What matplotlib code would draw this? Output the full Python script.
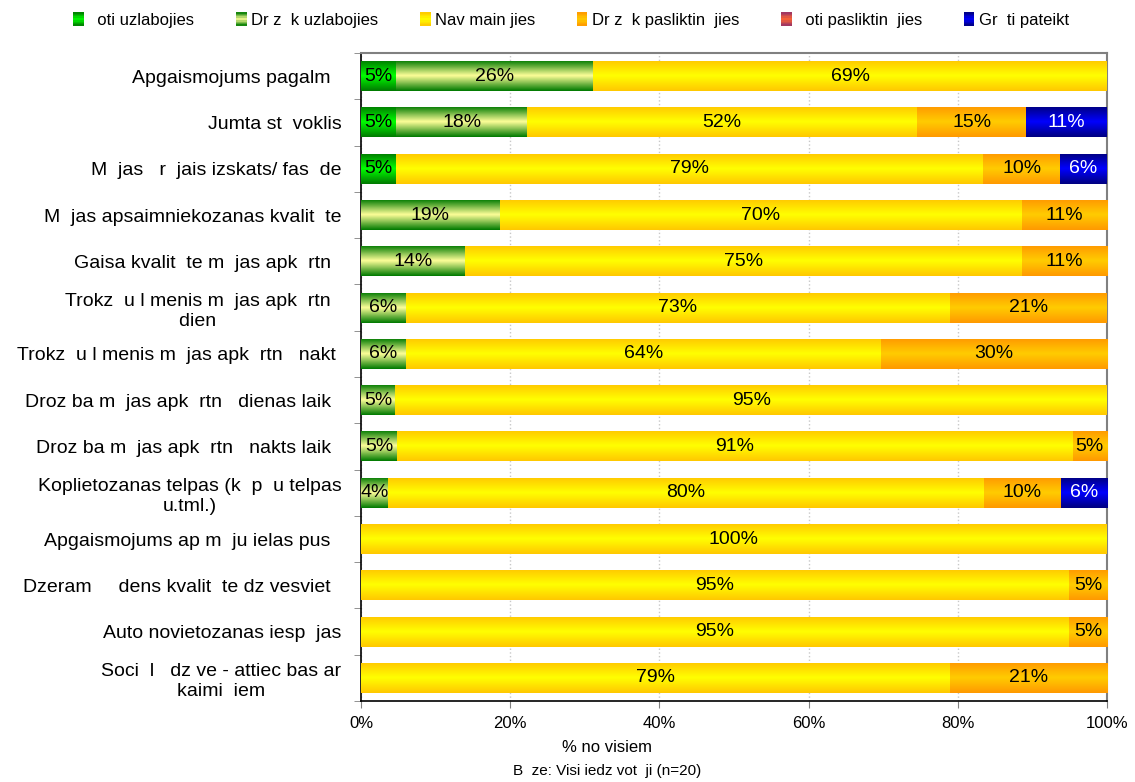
import numpy as np
import matplotlib
matplotlib.use('Agg')
import matplotlib.pyplot as plt
from matplotlib.colors import LinearSegmentedColormap
from matplotlib.legend_handler import HandlerBase
from matplotlib.patches import Rectangle

plt.rcParams['font.family'] = ['Liberation Sans', 'DejaVu Sans']
narrow = ['Liberation Sans Narrow', 'Liberation Sans', 'DejaVu Sans']

# Row labels as they appear in the picture (missing glyphs shown as gaps)
categories = [
    'Apgaismojums pagalm  ',
    'Jumta st  voklis',
    'M  jas   r  jais izskats/ fas  de',
    'M  jas apsaimniekozanas kvalit  te',
    'Gaisa kvalit  te m  jas apk  rtn  ',
    'Trokz  u l menis m  jas apk  rtn  \ndien  ',
    'Trokz  u l menis m  jas apk  rtn   nakt ',
    'Droz ba m  jas apk  rtn   dienas laik  ',
    'Droz ba m  jas apk  rtn   nakts laik  ',
    'Koplietozanas telpas (k  p  u telpas\nu.tml.)',
    'Apgaismojums ap m  ju ielas pus  ',
    'Dzeram     dens kvalit  te dz vesviet  ',
    'Auto novietozanas iesp  jas',
    'Soci  l   dz ve - attiec bas ar\nkaimi  iem',
]

series_names = ['  oti uzlabojies', 'Dr z  k uzlabojies', 'Nav main jies',
                'Dr z  k pasliktin  jies', '  oti pasliktin  jies', 'Gr  ti pateikt']

# shares in % per row
loti_uzl = [4.7, 4.7, 4.7, 0, 0, 0, 0, 0, 0, 0, 0, 0, 0, 0]
drizak_uzl = [26.4, 17.6, 0, 18.6, 13.9, 6.0, 6.0, 4.6, 4.8, 3.6, 0, 0, 0, 0]
nav_mainijies = [68.9, 52.2, 78.7, 70.0, 74.7, 73.0, 63.7, 95.4, 90.6, 79.9, 100, 94.9, 94.9, 78.9]
drizak_pasl = [0, 14.7, 10.3, 11.4, 11.4, 21.0, 30.3, 0, 4.6, 10.3, 0, 5.1, 5.1, 21.1]
loti_pasl = [0] * 14
gruti = [0, 10.8, 6.3, 0, 0, 0, 0, 0, 0, 6.2, 0, 0, 0, 0]

series = [loti_uzl, drizak_uzl, nav_mainijies, drizak_pasl, loti_pasl, gruti]
# (edge colour, centre colour) of each vertical gradient
grads = [('#007A00', '#00FF00'), ('#007A00', '#FFFF99'), ('#FFC800', '#FFFF00'),
         ('#FF9900', '#FFCC00'), ('#993366', '#FF6633'), ('#000080', '#0000FF')]
text_colors = ['black', 'black', 'black', 'black', 'white', 'white']

fig = plt.figure(figsize=(11.35, 7.82), dpi=100)
ax = fig.add_axes([361 / 1135, 1 - 701 / 782, (1107 - 361) / 1135, (701 - 53) / 782])

y = np.arange(len(categories))
left = np.zeros(len(categories))
grad = np.linspace(0, 1, 64).reshape(-1, 1)
for vals, (edge, mid), tc in zip(series, grads, text_colors):
    vals = np.array(vals, dtype=float)
    bars = ax.barh(y, vals, left=left, height=0.65, color=mid, linewidth=0, zorder=2)
    cmap = LinearSegmentedColormap.from_list('g', [edge, mid, edge])
    for patch, v in zip(bars.patches, vals):
        if v <= 0:
            continue
        x0, y0 = patch.get_x(), patch.get_y()
        im = ax.imshow(grad, cmap=cmap, extent=(x0, x0 + patch.get_width(), y0, y0 + patch.get_height()),
                       aspect='auto', interpolation='bilinear', zorder=3)
        im.set_clip_path(patch)
        ax.text(x0 + patch.get_width() / 2, y0 + patch.get_height() / 2, f'{v:.0f}%',
                ha='center', va='center', fontsize=14, color=tc, zorder=4)
    left += vals

ax.set_xlim(0, 100)
ax.set_ylim(len(categories) - 0.5, -0.5)
ax.set_xticks(range(0, 101, 20))
ax.set_xticklabels([f'{t}%' for t in range(0, 101, 20)], fontfamily=narrow, fontsize=12)
ax.set_yticks(y)
ax.set_yticklabels(categories, fontsize=14, multialignment='center', linespacing=1.25)
ax.set_yticks(np.arange(-0.5, len(categories), 1), minor=True)
ax.tick_params(axis='y', which='major', length=0, pad=14)
ax.tick_params(axis='y', which='minor', length=5, color='#808080')
ax.tick_params(axis='x', length=5, color='#808080', pad=6)
ax.grid(axis='x', linestyle=':', color='#C8C8C8', linewidth=1, zorder=0)
ax.set_axisbelow(True)
for s in ['top', 'right']:
    ax.spines[s].set_color('#808080')
    ax.spines[s].set_linewidth(1.5)
for s in ['left', 'bottom']:
    ax.spines[s].set_color('black')
    ax.spines[s].set_linewidth(1.2)

fig.text(607 / 1135, 1 - 748 / 782, '% no visiem', ha='center', va='center', fontsize=12, fontfamily=narrow)
fig.text(607 / 1135, 1 - 771 / 782, 'B  ze: Visi iedz vot  ji (n=20)', ha='center', va='center',
         fontsize=11, fontfamily=narrow)


class GradKey:
    def __init__(self, edge, mid):
        self.edge, self.mid = edge, mid


class GradHandler(HandlerBase):
    def create_artists(self, legend, orig_handle, xdescent, ydescent, width, height, fontsize, trans):
        cmap = LinearSegmentedColormap.from_list('g', [orig_handle.edge, orig_handle.mid, orig_handle.edge])
        k = 10
        arts = []
        for i in range(k):
            arts.append(Rectangle((-xdescent, -ydescent + i * height / k), width, height / k,
                                  facecolor=cmap((i + 0.5) / k), linewidth=0, transform=trans))
        return arts


handles = [GradKey(e, m) for e, m in grads]
fig.legend(handles, series_names, handler_map={GradKey: GradHandler()}, loc='center',
           bbox_to_anchor=(571 / 1135, 1 - 20 / 782), ncol=6, frameon=False, fontsize=12,
           handlelength=0.65, handleheight=0.85, handletextpad=0.25, columnspacing=2.5, borderpad=0)

fig.savefig('out.png', dpi=100)
